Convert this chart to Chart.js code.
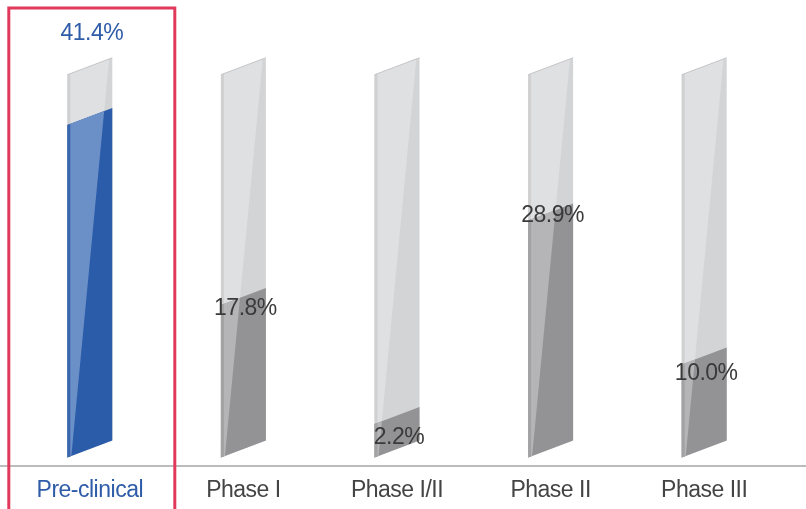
<!DOCTYPE html>
<html>
<head>
<meta charset="utf-8">
<script src="https://cdn.jsdelivr.net/npm/chart.js@4"></script>
<style>
  html, body { margin: 0; padding: 0; background: #fff; }
  .wrap { width: 806px; height: 509px; position: relative; }
</style>
</head>
<body>
<div class="wrap"><canvas id="chart"></canvas></div>
<script>
// chart data
const categories = ['Pre-clinical', 'Phase I', 'Phase I/II', 'Phase II', 'Phase III'];
const successRates = [41.4, 17.8, 2.2, 28.9, 10.0];
const trackValues = [48, 48, 48, 48, 48];
const valueLabels = ['41.4%', '17.8%', '2.2%', '28.9%', '10.0%'];
const highlightIndex = 0;

// styling
const SKEW = 17;
const FONT = '"Liberation Sans", Arial, sans-serif';
const palette = {
  track: { light: '#dfe0e1', dark: '#d3d4d6', edge: '#d0d0d1' },
  grey: { light: '#b5b5b7', dark: '#939396', edge: '#a2a2a4' },
  blue: { light: '#6b8fc7', dark: '#2b5ca9', edge: '#3a66ae' }
};
const blueText = '#2e5ca8';
const greyText = '#3a3a3a';

// draw a slanted bar face with a light diagonal stripe
function drawPrism(ctx, x0, x1, top, base, refTop, col) {
  const w = x1 - x0;
  ctx.save();
  ctx.beginPath();
  ctx.moveTo(x0, top);
  ctx.lineTo(x1, top - SKEW);
  ctx.lineTo(x1, base - SKEW);
  ctx.lineTo(x0, base);
  ctx.closePath();
  ctx.clip();
  ctx.fillStyle = col.dark;
  ctx.fillRect(x0 - 2, top - SKEW - 2, w + 4, base - top + SKEW + 4);

  const ax = x0 + 0.93 * w, ay = refTop - 0.93 * SKEW;
  const bx = x0 + 0.09 * w, by = base - 0.09 * SKEW;
  ctx.beginPath();
  ctx.moveTo(x0 - 2, ay - 40);
  ctx.lineTo(ax, ay - 40);
  ctx.lineTo(ax, ay);
  ctx.lineTo(bx, by);
  ctx.lineTo(bx, by + 40);
  ctx.lineTo(x0 - 2, by + 40);
  ctx.closePath();
  ctx.fillStyle = col.light;
  ctx.fill();

  ctx.fillStyle = col.edge;
  ctx.fillRect(x0, top - SKEW, 3, base - top + SKEW);
  ctx.restore();
}

const prismBars = {
  id: 'prismBars',
  beforeDraw(chart) {
    chart.ctx.letterSpacing = '-0.5px';
  },
  beforeDatasetsDraw(chart) {
    const { ctx, chartArea, width } = chart;
    // baseline across the whole width
    ctx.save();
    ctx.strokeStyle = '#bcbcbc';
    ctx.lineWidth = 2;
    ctx.beginPath();
    ctx.moveTo(0, chartArea.bottom);
    ctx.lineTo(width, chartArea.bottom);
    ctx.stroke();
    ctx.restore();
  },
  afterDatasetsDraw(chart) {
    const ctx = chart.ctx;
    const bars = chart.getDatasetMeta(0).data;
    const track = chart.getDatasetMeta(1).data;
    bars.forEach((bar, i) => {
      const bg = track[i];
      const x0 = bar.x - bar.width / 2;
      const x1 = bar.x + bar.width / 2;
      drawPrism(ctx, x0, x1, bg.y, bg.base, bg.y, palette.track);
      // thin top edge of the track
      ctx.save();
      ctx.strokeStyle = '#c6c6c8';
      ctx.lineWidth = 1;
      ctx.beginPath();
      ctx.moveTo(x0, bg.y);
      ctx.lineTo(x1, bg.y - SKEW);
      ctx.stroke();
      ctx.restore();
      drawPrism(ctx, x0, x1, bar.y, bar.base, bg.y, i === highlightIndex ? palette.blue : palette.grey);
    });

    // value labels
    ctx.save();
    ctx.font = '23px ' + FONT;
    ctx.textAlign = 'center';
    ctx.textBaseline = 'middle';
    bars.forEach((bar, i) => {
      if (i === highlightIndex) {
        ctx.fillStyle = blueText;
        ctx.fillText(valueLabels[i], bar.x + 2, track[i].y - 41);
      } else {
        const h = bar.base - bar.y;
        ctx.fillStyle = greyText;
        ctx.fillText(valueLabels[i], bar.x + 2, bar.base + 17 - h * 1.09);
      }
    });
    ctx.restore();
  },
  afterDraw(chart) {
    // highlight frame around the selected category
    const { ctx, height } = chart;
    const cx = chart.scales.x.getPixelForValue(highlightIndex);
    ctx.save();
    ctx.strokeStyle = '#e0395c';
    ctx.lineWidth = 3;
    ctx.strokeRect(cx - 81, 8, 166, height + 10);
    ctx.restore();
  }
};

new Chart(document.getElementById('chart'), {
  type: 'bar',
  data: {
    labels: categories,
    datasets: [
      {
        label: 'Success rate',
        data: successRates,
        base: -2.2,
        grouped: false,
        backgroundColor: 'rgba(0,0,0,0)',
        categoryPercentage: 1,
        barPercentage: 0.293
      },
      {
        label: 'Track',
        data: trackValues,
        base: -2.2,
        grouped: false,
        backgroundColor: 'rgba(0,0,0,0)',
        categoryPercentage: 1,
        barPercentage: 0.293
      }
    ]
  },
  options: {
    responsive: true,
    maintainAspectRatio: false,
    animation: false,
    layout: { padding: { left: 13, right: 25, top: 0, bottom: 0 } },
    plugins: {
      legend: { display: false },
      tooltip: { enabled: false }
    },
    scales: {
      x: {
        grid: { display: false, drawTicks: false },
        border: { display: false },
        afterFit(scale) { scale.height = 43; },
        ticks: {
          padding: 11,
          font: { family: FONT, size: 23 },
          color: (c) => c.index === highlightIndex ? blueText : '#444444'
        }
      },
      y: {
        display: false,
        min: -3.3,
        max: 57.8
      }
    }
  },
  plugins: [prismBars]
});
</script>
</body>
</html>
